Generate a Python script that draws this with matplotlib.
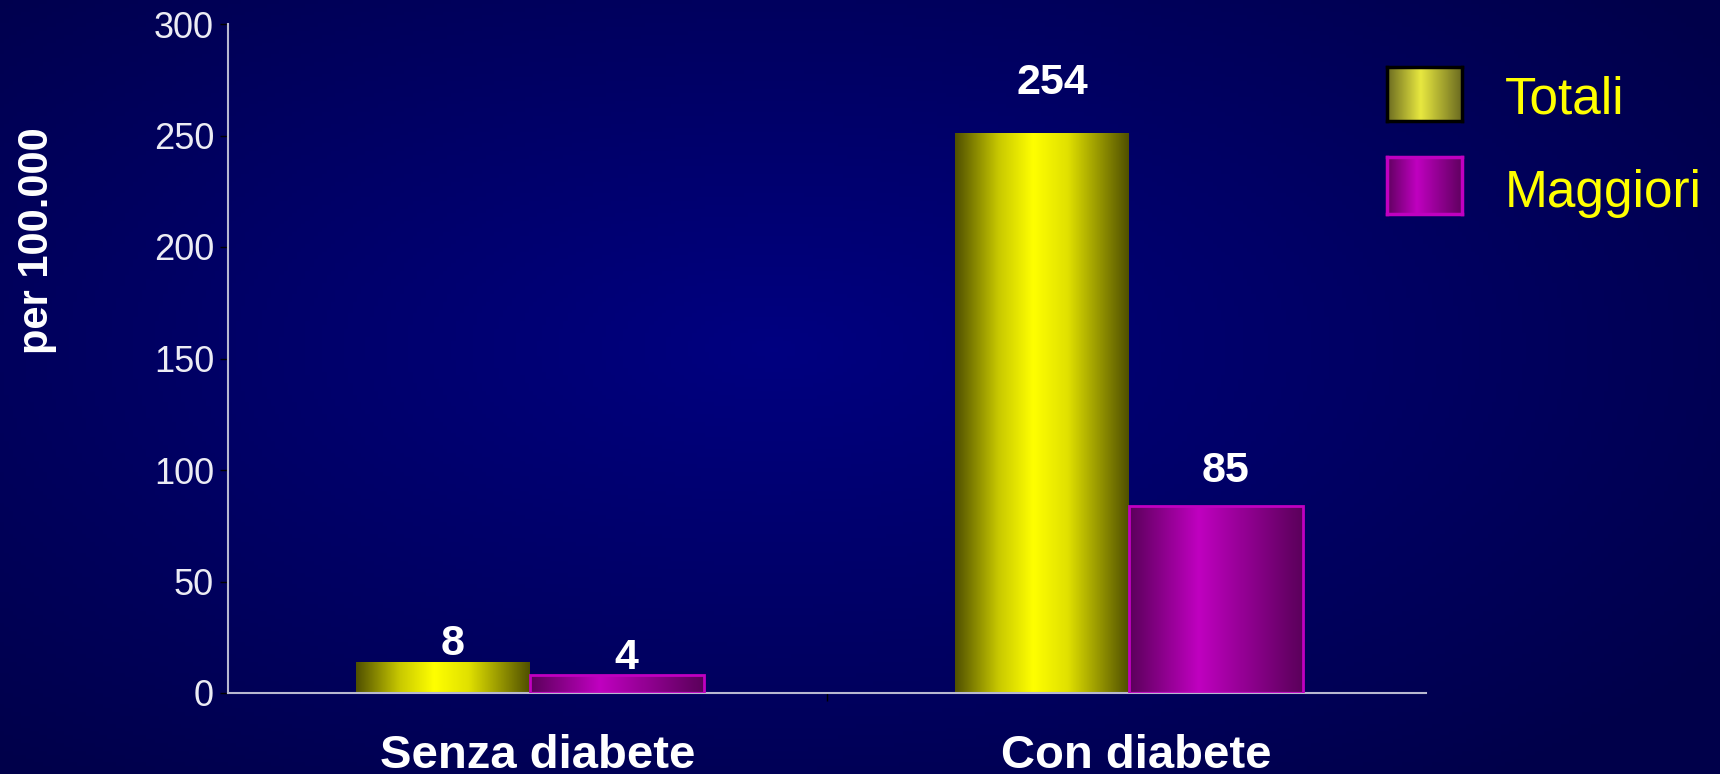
import numpy as np
import matplotlib
matplotlib.use('Agg')
import matplotlib.pyplot as plt
from matplotlib.colors import LinearSegmentedColormap

# data
categories = ['Senza diabete', 'Con diabete']
series_names = ['Totali', 'Maggiori']
totali = [14, 251]          # drawn bar heights
maggiori = [8, 84]
totali_labels = ['8', '254']   # printed values
maggiori_labels = ['4', '85']
yticks = [0, 50, 100, 150, 200, 250, 300]

plt.rcParams['font.family'] = ['Liberation Sans', 'DejaVu Sans']

fig = plt.figure(figsize=(17.2, 7.74), dpi=100)

##################################### background gradient
bg = fig.add_axes([0, 0, 1, 1])
bg.axis('off')
yy, xx = np.mgrid[0:1:200j, 0:1:400j]
r = np.sqrt(((xx - 0.45) / 0.75) ** 2 + ((yy - 0.45) / 0.8) ** 2)
bg_cmap = LinearSegmentedColormap.from_list('bg', ['#000080', '#00004a'])
bg.imshow(r, cmap=bg_cmap, aspect='auto', extent=[0, 1, 0, 1], vmin=0, vmax=0.9)

##################################### bars
ax = fig.add_axes([228 / 1720, 1 - 693 / 774, 1198 / 1720, 669 / 774])
ax.patch.set_alpha(0)

yellow_cmap = LinearSegmentedColormap.from_list('yel', [(0, '#505000'), (0.25, '#c8c800'), (0.45, '#ffff00'),
                                                        (0.65, '#e0e000'), (1, '#505000')])
magenta_cmap = LinearSegmentedColormap.from_list('mag', [(0, '#5a005a'), (0.4, '#c000c0'), (1, '#5a005a')])

x = np.arange(len(categories)) + 0.004
w = 0.29
bars_t = ax.bar(x - w / 2, totali, w, facecolor='none', edgecolor='none', zorder=3)
bars_m = ax.bar(x + w / 2, maggiori, w, facecolor='none', edgecolor='#c000c0', linewidth=2, zorder=3)

grad = np.linspace(0, 1, 256).reshape(1, -1)
def fill_gradient(bars, cmap):
    for b in bars:
        x0 = b.get_x()
        im = ax.imshow(grad, cmap=cmap, extent=[x0, x0 + b.get_width(), 0, b.get_height()],
                       aspect='auto', zorder=2, interpolation='bicubic')
        im.set_clip_path(b)

fill_gradient(bars_t, yellow_cmap)
fill_gradient(bars_m, magenta_cmap)

ax.set_xlim(-0.5, 1.5)
ax.set_ylim(0, 300)

# value labels (gap above the bar top in pixels, as in the original slide)
label_gap = [[7, 39], [6, 24]]
for j, (bars, labels) in enumerate([(bars_t, totali_labels), (bars_m, maggiori_labels)]):
    for i, (b, t) in enumerate(zip(bars, labels)):
        ax.annotate(t, (b.get_x() + b.get_width() / 2, b.get_height()),
                    xytext=(10, label_gap[j][i]), textcoords='offset pixels',
                    ha='center', va='baseline', color='white', fontsize=31, fontweight='bold')

for i, cat in enumerate(categories):
    ax.annotate(cat, (i, 0), xycoords=('data', 'axes fraction'), xytext=(10, -75),
                textcoords='offset pixels', ha='center', va='baseline',
                color='white', fontsize=34, fontweight='bold')

for s in ['top', 'right']:
    ax.spines[s].set_visible(False)
for s in ['left', 'bottom']:
    ax.spines[s].set_color('#b8b8d0')
    ax.spines[s].set_linewidth(1.5)

ax.set_yticks(yticks)
ax.tick_params(axis='y', colors='black', labelcolor='#ececf4', labelsize=26, length=6, width=1, pad=4)
ax.set_xticks([0.5])
ax.set_xticklabels([''])
ax.tick_params(axis='x', colors='black', length=6, width=1)

fig.text(37 / 1720, 1 - 241 / 774, 'per 100.000', rotation=90, ha='center', va='center',
         color='white', fontsize=30, fontweight='bold')

##################################### legend
legend_cmaps = [
    LinearSegmentedColormap.from_list('ly', [(0, '#6a6a20'), (0.45, '#e8e840'), (1, '#6a6a20')]),
    LinearSegmentedColormap.from_list('lm', [(0, '#600060'), (0.4, '#c000c0'), (1, '#600060')]),
]
legend_edges = ['black', '#c000c0']
legend_boxes = [[1387, 67, 75, 54], [1387, 157, 75, 57]]
legend_baselines = [114, 207]
for name, cm, ec, (bx, by, bw, bh), base in zip(series_names, legend_cmaps, legend_edges,
                                                legend_boxes, legend_baselines):
    sw = fig.add_axes([bx / 1720, 1 - (by + bh) / 774, bw / 1720, bh / 774])
    sw.imshow(grad, cmap=cm, aspect='auto', interpolation='bicubic')
    sw.set_xticks([])
    sw.set_yticks([])
    for s in sw.spines.values():
        s.set_color(ec)
        s.set_linewidth(2.5)
    fig.text(1505 / 1720, 1 - base / 774, name, ha='left', va='baseline',
             color='#ffff00', fontsize=37)

fig.savefig('out.png', dpi=100)
